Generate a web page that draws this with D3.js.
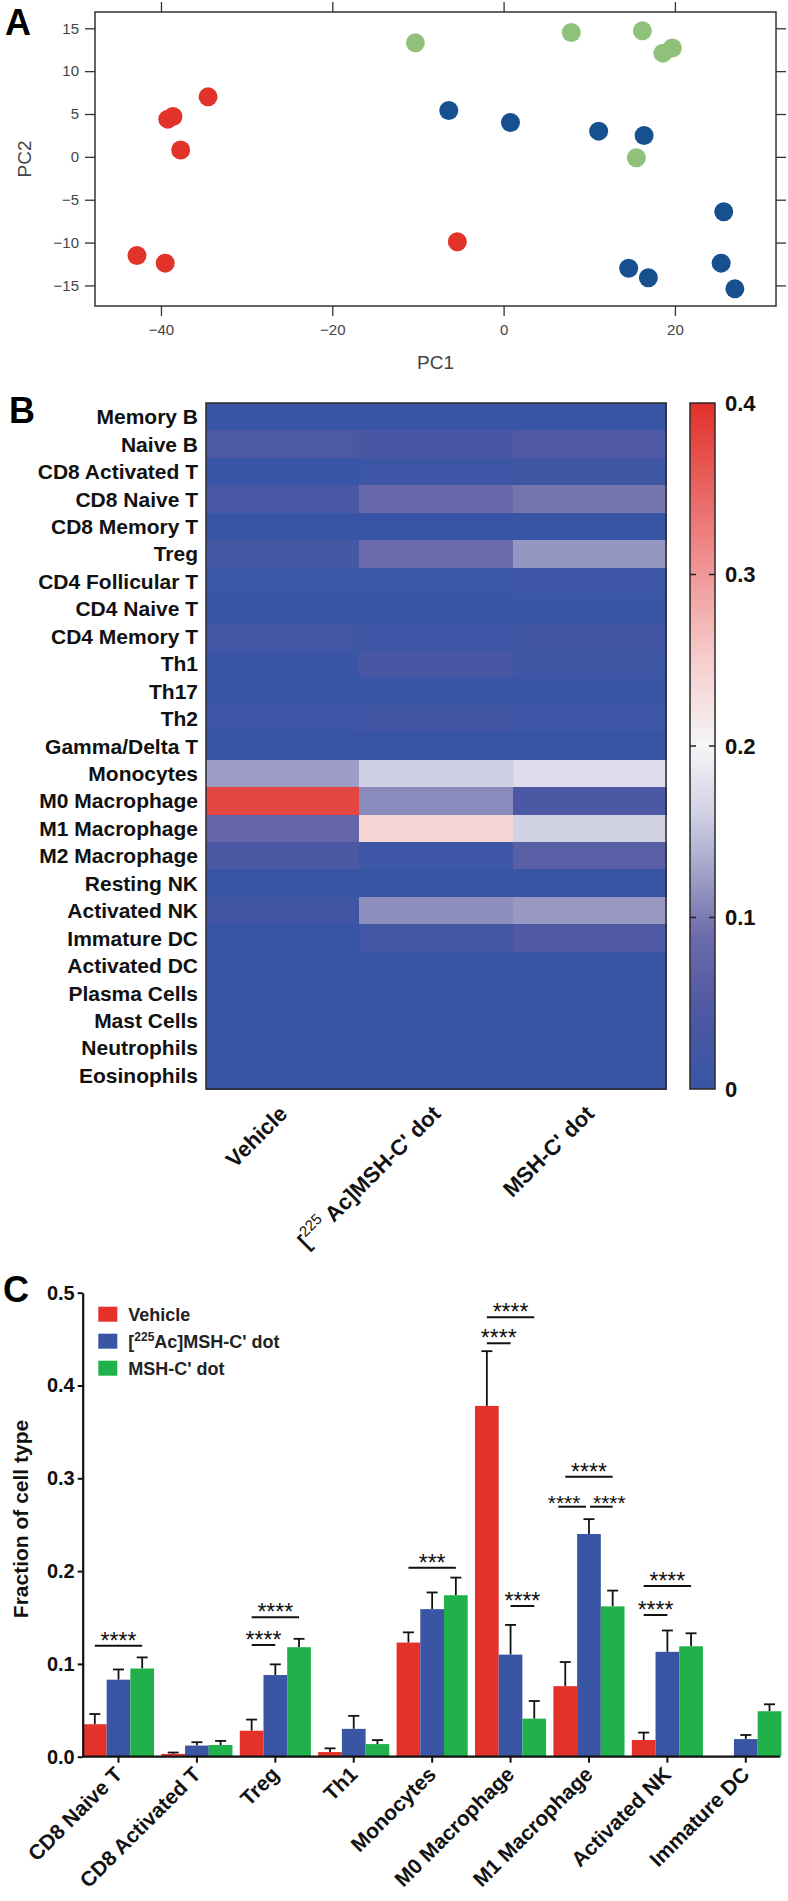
<!DOCTYPE html>
<html><head><meta charset="utf-8">
<script src="https://cdn.jsdelivr.net/npm/d3@7"></script>
<style>
body{margin:0;background:#fff}
svg{display:block}
text{font-family:"Liberation Sans",Arial,Helvetica,sans-serif}
</style>
</head><body>
<svg id="fig" width="788" height="1901"></svg>
<script>
// ---------------- Panel A: PCA ----------------
const pcaVehicleX = [-34.5, -39.2, -38.6, -37.7, -42.8, -39.5, -5.4];
const pcaVehicleY = [7.0, 4.4, 4.7, 0.8, -11.5, -12.4, -9.9];
const pcaAcX = [-6.4, 0.8, 11.1, 16.4, 25.7, 14.6, 16.9, 25.4, 27.0];
const pcaAcY = [5.4, 4.0, 3.0, 2.5, -6.4, -13.0, -14.1, -12.4, -15.4];
const pcaMshX = [-10.3, 7.9, 16.2, 18.6, 19.7, 15.5];
const pcaMshY = [13.3, 14.5, 14.7, 12.1, 12.7, -0.1];
const pcaXTicks = [-40, -20, 0, 20];
const pcaYTicks = [-15, -10, -5, 0, 5, 10, 15];
const pcaXDomain = [-47.7, 31.8];
const pcaYDomain = [-17.4, 16.9];

// ---------------- Panel B: heatmap ----------------
const cellTypes = ["Memory B","Naive B","CD8 Activated T","CD8 Naive T","CD8 Memory T","Treg",
  "CD4 Follicular T","CD4 Naive T","CD4 Memory T","Th1","Th17","Th2","Gamma/Delta T","Monocytes",
  "M0 Macrophage","M1 Macrophage","M2 Macrophage","Resting NK","Activated NK","Immature DC",
  "Activated DC","Plasma Cells","Mast Cells","Neutrophils","Eosinophils"];
const heatConditions = ["Vehicle", "Ac", "MSH"];
const heatVehicle = [0.003,0.045,0.003,0.035,0.002,0.028,0.008,0.002,0.020,0.005,0.004,0.010,0.002,0.123,0.378,0.076,0.038,0.002,0.018,0.002,0.002,0.003,0.002,0.002,0.002];
const heatAc      = [0.003,0.030,0.012,0.083,0.002,0.088,0.008,0.002,0.012,0.030,0.006,0.018,0.002,0.159,0.110,0.240,0.012,0.002,0.113,0.019,0.002,0.003,0.002,0.002,0.002];
const heatMsh     = [0.003,0.048,0.013,0.095,0.002,0.118,0.012,0.004,0.018,0.014,0.006,0.012,0.002,0.174,0.041,0.162,0.062,0.002,0.119,0.049,0.002,0.003,0.002,0.002,0.002];
const colorbarTicks = [0, 0.1, 0.2, 0.3, 0.4];
const colorStops = [0, 0.05, 0.09, 0.12, 0.16, 0.2, 0.25, 0.3, 0.4];
const colorStopColors = ["#3755a5","#5159a3","#6c6cab","#9999c4","#d0d0e4","#f5f5f7","#f6cdcd","#f09898","#e1302a"];

// ---------------- Panel C: bars ----------------
const barCategories = ["CD8 Naive T","CD8 Activated T","Treg","Th1","Monocytes","M0 Macrophage","M1 Macrophage","Activated NK","Immature DC"];
const barVehicle    = [0.035, 0.003, 0.028, 0.005, 0.123, 0.378, 0.076, 0.018, 0];
const barVehicleSem = [0.011, 0.0015, 0.012, 0.004, 0.011, 0.059, 0.026, 0.008, 0];
const barAc         = [0.083, 0.012, 0.088, 0.030, 0.159, 0.110, 0.240, 0.113, 0.019];
const barAcSem      = [0.011, 0.0036, 0.0115, 0.014, 0.018, 0.032, 0.016, 0.023, 0.0044];
const barMsh        = [0.095, 0.0126, 0.118, 0.0136, 0.174, 0.041, 0.162, 0.119, 0.049];
const barMshSem     = [0.012, 0.0044, 0.009, 0.0043, 0.019, 0.019, 0.017, 0.014, 0.0075];
const barYTicks = [0, 0.1, 0.2, 0.3, 0.4, 0.5];
// significance brackets: category index, from series, to series, level, label
const sigGroup = [0, 2, 2, 4, 5, 5, 5, 6, 6, 6, 7, 7];
const sigFrom  = [0, 0, 0, 0, 0, 0, 1, 0, 0, 1, 0, 0];
const sigTo    = [2, 1, 2, 2, 2, 1, 2, 2, 1, 2, 1, 2];
const sigLevel = [0.1196, 0.1204, 0.1502, 0.2037, 0.4735, 0.4455, 0.1624, 0.3017, 0.2694, 0.2694, 0.1527, 0.1839];
const sigLabel = ["****","****","****","***","****","****","****","****","****","****","****","****"];

const svg = d3.select("#fig");
const FONT = '"Liberation Sans",Arial,Helvetica,sans-serif';

// Panel letters
[["A",5,35],["B",9,423],["C",3,1302]].forEach(([t,x,y])=>{
  svg.append("text").attr("x",x).attr("y",y).attr("font-size",36).attr("font-weight","bold").attr("fill","#000").text(t);
});

// ================= Panel A =================
{
  const L=95,R=776,T=12,B=306;
  const x = d3.scaleLinear().domain(pcaXDomain).range([L,R]);
  const y = d3.scaleLinear().domain(pcaYDomain).range([B,T]);
  const g = svg.append("g");
  const fmt = d3.format("");
  const styleAxis = sel => {
    sel.select(".domain").remove();
    sel.selectAll(".tick line").attr("stroke","#333").attr("stroke-width",1.3);
    sel.selectAll(".tick text").attr("fill","#444").attr("font-size",15).attr("font-family",FONT);
  };
  g.append("g").attr("transform",`translate(0,${B})`)
    .call(d3.axisBottom(x).tickValues(pcaXTicks).tickSize(10).tickPadding(8).tickFormat(fmt)).call(styleAxis);
  g.append("g").attr("transform",`translate(0,${T})`)
    .call(d3.axisTop(x).tickValues(pcaXTicks).tickSize(10).tickFormat("")).call(styleAxis);
  g.append("g").attr("transform",`translate(${L},0)`)
    .call(d3.axisLeft(y).tickValues(pcaYTicks).tickSize(10).tickPadding(6).tickFormat(fmt)).call(styleAxis);
  g.append("g").attr("transform",`translate(${R},0)`)
    .call(d3.axisRight(y).tickValues(pcaYTicks).tickSize(10).tickFormat("")).call(styleAxis);
  g.append("rect").attr("x",L).attr("y",T).attr("width",R-L).attr("height",B-T)
    .attr("fill","none").attr("stroke","#333").attr("stroke-width",1.5);

  const groups = [
    {xs:pcaVehicleX, ys:pcaVehicleY, c:"#e2332b"},
    {xs:pcaAcX, ys:pcaAcY, c:"#17508f"},
    {xs:pcaMshX, ys:pcaMshY, c:"#8fc17b"}
  ];
  groups.forEach(gr=>{
    g.append("g").selectAll("circle").data(gr.xs.map((v,i)=>[v,gr.ys[i]])).join("circle")
      .attr("cx",d=>x(d[0])).attr("cy",d=>y(d[1])).attr("r",9.5).attr("fill",gr.c);
  });
  g.append("text").attr("x",(L+R)/2).attr("y",369).attr("text-anchor","middle")
    .attr("font-size",19).attr("fill","#444").text("PC1");
  g.append("text").attr("transform",`translate(31,${(T+B)/2}) rotate(-90)`).attr("text-anchor","middle")
    .attr("font-size",19).attr("fill","#444").text("PC2");
}

// ================= Panel B =================
{
  const L=206,R=666,T=403,B=1089;
  const x = d3.scaleBand().domain(heatConditions).range([L,R]);
  const y = d3.scaleBand().domain(cellTypes).range([T,B]);
  const color = d3.scaleLinear().domain(colorStops).range(colorStopColors).clamp(true);
  const g = svg.append("g");
  const cols = [heatVehicle, heatAc, heatMsh];
  const cells = [];
  cols.forEach((arr,ci)=>arr.forEach((v,ri)=>cells.push({c:heatConditions[ci], r:cellTypes[ri], v})));
  g.selectAll("rect.cell").data(cells).join("rect").attr("class","cell")
    .attr("x",d=>x(d.c)).attr("y",d=>y(d.r)).attr("width",x.bandwidth()+0.5).attr("height",y.bandwidth()+0.5)
    .attr("fill",d=>color(d.v)).attr("shape-rendering","crispEdges");
  g.append("rect").attr("x",L).attr("y",T).attr("width",R-L).attr("height",B-T)
    .attr("fill","none").attr("stroke","#2a2a2a").attr("stroke-width",1.5);
  // row labels
  g.selectAll("text.row").data(cellTypes).join("text").attr("class","row")
    .attr("x",L-8).attr("y",d=>y(d)+y.bandwidth()/2).attr("dy","0.36em")
    .attr("text-anchor","end").attr("font-size",21).attr("font-weight","bold").attr("fill","#111").text(d=>d);
  // column labels
  const colLab = g.selectAll("text.col").data(heatConditions).join("text").attr("class","col")
    .attr("transform",d=>`translate(${x(d)+x.bandwidth()/2+6},${B+26}) rotate(-45)`)
    .attr("text-anchor","end").attr("font-size",22).attr("font-weight","bold").attr("fill","#111");
  colLab.each(function(d){
    const t = d3.select(this);
    if(d==="Vehicle"){ t.text("Vehicle"); }
    else if(d==="Ac"){
      t.append("tspan").text("[");
      t.append("tspan").attr("font-size",15).attr("font-weight","normal").attr("dy",-10).text("225");
      t.append("tspan").attr("dy",10).text(" Ac]MSH-C' dot");
    } else { t.text("MSH-C' dot"); }
  });
  // colorbar
  const cbL=690, cbW=25;
  const cy = d3.scaleLinear().domain([0,0.4]).range([B,T]);
  const grad = svg.append("defs").append("linearGradient").attr("id","cbgrad")
    .attr("x1",0).attr("y1",1).attr("x2",0).attr("y2",0);
  d3.range(0,41).forEach(i=>{
    const v = i/100;
    grad.append("stop").attr("offset",(v/0.4)).attr("stop-color",color(v));
  });
  g.append("rect").attr("x",cbL).attr("y",T).attr("width",cbW).attr("height",B-T)
    .attr("fill","url(#cbgrad)").attr("stroke","#2a2a2a").attr("stroke-width",1.5);
  const inner = colorbarTicks.filter(v=>v>0 && v<0.4);
  g.selectAll("line.cbl").data(inner).join("line").attr("x1",cbL).attr("x2",cbL+6)
    .attr("y1",d=>cy(d)).attr("y2",d=>cy(d)).attr("stroke","#222").attr("stroke-width",1.5);
  g.selectAll("line.cbr").data(inner).join("line").attr("x1",cbL+cbW-6).attr("x2",cbL+cbW)
    .attr("y1",d=>cy(d)).attr("y2",d=>cy(d)).attr("stroke","#222").attr("stroke-width",1.5);
  g.selectAll("text.cbt").data(colorbarTicks).join("text").attr("class","cbt")
    .attr("x",cbL+cbW+10).attr("y",d=>cy(d)).attr("dy","0.36em")
    .attr("font-size",22).attr("font-weight","bold").attr("fill","#111")
    .text(d=>d===0?"0":d3.format(".1f")(d));
}

// ================= Panel C =================
{
  const axX=82.7, T=1292.7, B=1756.7;
  const y = d3.scaleLinear().domain([0,0.5]).range([B,T]);
  const x = d3.scaleBand().domain(barCategories).range([79.3,785]).padding(0);
  const barW = 23.7;
  const seriesColors = ["#e4312a","#3b55a5","#21b14b"];
  const seriesNames = ["Vehicle","Ac","MSH"];
  const means = [barVehicle, barAc, barMsh];
  const sems = [barVehicleSem, barAcSem, barMshSem];
  const cx = (gi,si)=> x(barCategories[gi]) + x.bandwidth()/2 + (si-1)*barW;
  const g = svg.append("g");

  // error bars (drawn first, bars on top hide lower part)
  means.forEach((arr,si)=>{
    arr.forEach((m,gi)=>{
      if(m<=0) return;
      const top = m + sems[si][gi];
      const xc = cx(gi,si);
      g.append("line").attr("x1",xc).attr("x2",xc).attr("y1",y(m)).attr("y2",y(top))
        .attr("stroke","#111").attr("stroke-width",1.8);
      g.append("line").attr("x1",xc-5.5).attr("x2",xc+5.5).attr("y1",y(top)).attr("y2",y(top))
        .attr("stroke","#111").attr("stroke-width",1.8);
    });
  });
  means.forEach((arr,si)=>{
    g.append("g").selectAll("rect").data(arr.map((m,gi)=>({m,gi}))).join("rect")
      .filter(d=>d.m>0)
      .attr("x",d=>cx(d.gi,si)-barW/2).attr("y",d=>y(d.m)).attr("width",barW).attr("height",d=>y(0)-y(d.m))
      .attr("fill",seriesColors[si]);
  });

  // axes
  const ya = g.append("g").attr("transform",`translate(${axX},0)`)
    .call(d3.axisLeft(y).tickValues(barYTicks).tickSize(5).tickSizeOuter(0).tickPadding(3).tickFormat(d3.format(".1f")));
  ya.select(".domain").attr("stroke","#111").attr("stroke-width",2.2);
  ya.selectAll(".tick line").attr("stroke","#111").attr("stroke-width",2);
  ya.selectAll(".tick text").attr("font-size",20).attr("font-weight","bold").attr("fill","#111").attr("font-family",FONT);

  const xa = g.append("g").attr("transform",`translate(0,${B})`)
    .call(d3.axisBottom(x).tickSize(6).tickSizeOuter(0).tickFormat(""));
  xa.select(".domain").attr("d",`M${axX},0H${x.range()[1]-5}`).attr("stroke","#111").attr("stroke-width",2.2);
  xa.selectAll(".tick line").attr("stroke","#111").attr("stroke-width",2);

  g.selectAll("text.xl").data(barCategories).join("text").attr("class","xl")
    .attr("transform",d=>`translate(${x(d)+x.bandwidth()/2+5},${B+19}) rotate(-45)`)
    .attr("text-anchor","end").attr("font-size",21).attr("font-weight","bold").attr("fill","#111").text(d=>d);

  g.append("text").attr("transform",`translate(28,1519) rotate(-90)`).attr("text-anchor","middle")
    .attr("font-size",21).attr("font-weight","bold").attr("fill","#111").text("Fraction of cell type");

  // significance
  sigGroup.forEach((gi,k)=>{
    // find a neighbour bracket at the same level in the same group
    const twin = sigGroup.findIndex((g2,j)=> j!==k && g2===gi && sigLevel[j]===sigLevel[k]);
    let shift = 0, trimL = 0, trimR = 0;
    if(twin>=0){
      if(sigFrom[k] < sigFrom[twin]){ shift = -8; trimR = 3; trimL = -7; }
      else { shift = 8; trimL = 1; }
    }
    const x1 = cx(gi,sigFrom[k]) + trimL, x2 = cx(gi,sigTo[k]) - trimR;
    const yy = y(sigLevel[k]);
    g.append("line").attr("x1",x1).attr("x2",x2).attr("y1",yy).attr("y2",yy)
      .attr("stroke","#111").attr("stroke-width",2);
    g.append("text").attr("x",(x1+x2)/2+shift).attr("y",yy+3).attr("text-anchor","middle")
      .attr("font-size",twin>=0?21:23).attr("fill","#111").text(sigLabel[k]);
  });

  // legend
  const lg = g.append("g");
  seriesNames.forEach((s,i)=>{
    const ly = 1306.7 + i*27;
    lg.append("rect").attr("x",98.3).attr("y",ly).attr("width",19).attr("height",15).attr("fill",seriesColors[i]);
    const t = lg.append("text").attr("x",128.3).attr("y",ly+14.5).attr("font-size",18).attr("font-weight","bold").attr("fill","#222");
    if(s==="Vehicle") t.text("Vehicle");
    else if(s==="Ac"){
      t.append("tspan").text("[");
      t.append("tspan").attr("font-size",12).attr("dy",-7).text("225");
      t.append("tspan").attr("dy",7).text("Ac]MSH-C' dot");
    } else t.text("MSH-C' dot");
  });
}
</script>
</body></html>
